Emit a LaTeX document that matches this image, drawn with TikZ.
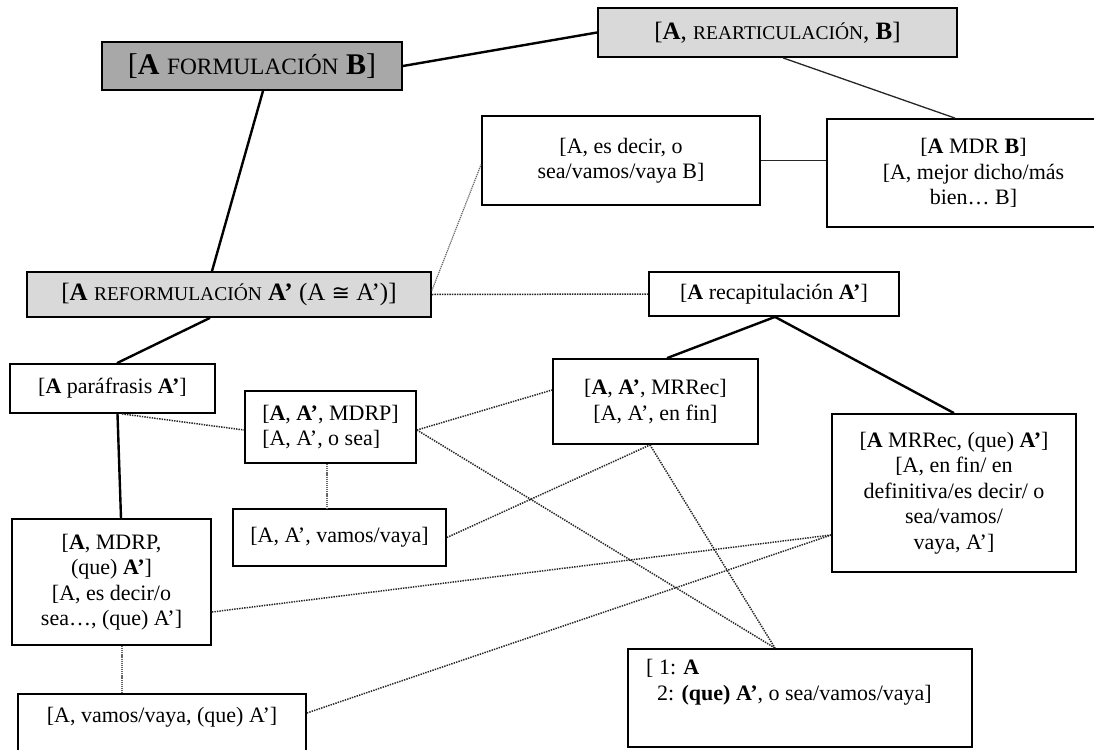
\documentclass[tikz,border=0pt]{standalone}
\usepackage{fontspec}
\setmainfont{Liberation Serif}
\newfontfamily\symfont{DejaVu Sans}
\definecolor{darkfill}{HTML}{A8A8A8}
\definecolor{lightfill}{HTML}{D9D9D9}
\newcommand\myscm[1]{{\fontsize{19.5}{19.5}\selectfont #1}}
\newcommand\myscb[1]{{\fontsize{23.4}{23.4}\selectfont #1}}
\tikzset{
  box/.style={draw=black, line width=1.8pt, inner sep=0pt, align=center,
    font=\fontsize{22}{25.5}\selectfont},
  txt/.style={inner sep=0pt, font=\fontsize{22}{26}\selectfont},
  solidc/.style={line width=2.4pt, draw=black},
  thinc/.style={line width=1.3pt, draw=black!85},
  dotc/.style={line width=1.5pt, draw=black!85, dash pattern=on 1.4pt off 1.1pt},
  dotl/.style={line width=1.2pt, draw=black!60, dash pattern=on 1.2pt off 0.9pt},
}
\begin{document}
\begin{tikzpicture}[x=1pt,y=-1pt]
\useasboundingbox (0,0) rectangle (1094,749);
\fill[white] (0,0) rectangle (1094,749);

% boxes
\node[box, fill=darkfill, minimum width=300, minimum height=48,
  font=\fontsize{30}{32}\selectfont] (form) at (252,66)
  {[\textbf{A} \myscb{FORMULACIÓN} \textbf{B}]};
\node[box, fill=lightfill, minimum width=359, minimum height=49,
  font=\fontsize{25}{28}\selectfont] (reart) at (777.5,32.5)
  {[\textbf{A}, \myscm{REARTICULACIÓN}, \textbf{B}]};
\node[box, minimum width=278, minimum height=89] (esdecir) at (621,160.5)
  {[A, es decir, o\\sea/vamos/vaya B]};
\node[box, minimum width=293, minimum height=108] (mdr) at (973.5,173)
  {[\textbf{A} MDR \textbf{B}]\\{}[A, mejor dicho/más\\bien… B]};
\node[box, fill=lightfill, minimum width=404, minimum height=45,
  font=\fontsize{25}{28}\selectfont] (reform) at (229,294.5)
  {[\textbf{A} \myscm{REFORMULACIÓN} \textbf{A’} (A {\symfont\fontsize{22}{28}\selectfont ≅} A’)]};
\node[box, minimum width=250, minimum height=44] (recap) at (774,294)
  {[\textbf{A} recapitulación \textbf{A’}]};
\node[box, minimum width=205, minimum height=49] (paraf) at (112.5,388.5)
  {[\textbf{A} paráfrasis \textbf{A’}]};
\node[box, minimum width=171, minimum height=72, align=left] (mdrp) at (330.5,427)
  {[\textbf{A}, \textbf{A’}, MDRP]\\{}[A, A’, o sea]};
\node[box, minimum width=205, minimum height=85] (mrrec1) at (655.5,401.5)
  {[\textbf{A}, \textbf{A’}, MRRec]\\{}[A, A’, en fin]};
\node[box, minimum width=244, minimum height=158] (mrrec2) at (954,493)
  {[\textbf{A} MRRec, (que) \textbf{A’}]\\{}[A, en fin/ en\\definitiva/es decir/ o\\sea/vamos/\\vaya, A’]};
\node[box, minimum width=213, minimum height=57] (vamos) at (339.5,537.5)
  {[A, A’, vamos/vaya]};
\node[box, minimum width=199, minimum height=126] (mdrp2) at (111.5,582)
  {[\textbf{A}, MDRP,\\(que) \textbf{A’}]\\{}[A, es decir/o\\sea…, (que) A’]};
\node[box, minimum width=288, minimum height=76] (vamos2) at (162,732) {};
\node[txt] (vamos2t) at (162,717) {[A, vamos/vaya, (que) A’]};
\node[box, minimum width=344, minimum height=98] (bottom) at (800,698) {};
\node[txt, anchor=north west, align=left] (bottomt) at (646,659)
  {[ 1: \textbf{A}\\\hspace*{11pt}2: \textbf{(que) A’}, o sea/vamos/vaya]};

% solid connectors
\draw[solidc] (form.east) -- (reart.west);
\draw[solidc] ([xshift=11pt]form.south) -- ([xshift=-17pt]reform.north);
\draw[thinc] ([xshift=5.5pt]reart.south) -- ([xshift=-18.5pt]mdr.north);
\draw[thinc] (esdecir.east) -- (esdecir.east -| mdr.west);
\draw[solidc] ([xshift=-19pt]reform.south) -- ([xshift=4.5pt]paraf.north);
\draw[solidc] ([xshift=1pt]recap.south) -- ([xshift=11.5pt]mrrec1.north);
\draw[solidc] ([xshift=1pt]recap.south) -- (mrrec2.north);
\draw[solidc] ([xshift=5pt]paraf.south) -- ([xshift=9.5pt]mdrp2.north);

% dotted connectors
\draw[dotl] ([yshift=4pt]reform.east) -- ([yshift=-4pt]esdecir.west);
\draw[dotc] (reform.east) -- (recap.west);
\draw[dotc] ([xshift=9.5pt]paraf.south) -- ([yshift=-3pt]mdrp.west);
\draw[dotc] ([yshift=-3pt]mdrp.east) -- ([yshift=11.5pt]mrrec1.west);
\draw[dotc] ([yshift=-3pt]mdrp.east) -- ([xshift=-25pt]bottom.north);
\draw[dotc] ([xshift=-5.5pt]mrrec1.south) -- ([xshift=-25pt]bottom.north);
\draw[dotc] (vamos.east) -- ([xshift=-5.5pt]mrrec1.south);
\draw[dotl] ([xshift=-3.5pt]mdrp.south) -- ([xshift=-12.5pt]vamos.north);
\draw[dotc] ([yshift=-30pt]mdrp2.east) -- ([yshift=-42pt]mrrec2.west);
\draw[dotc] ([yshift=19pt]vamos2.east) -- ([yshift=-42pt]mrrec2.west);
\draw[dotl] ([xshift=10.5pt]mdrp2.south) -- ([xshift=-40pt]vamos2.north);
\end{tikzpicture}
\end{document}
